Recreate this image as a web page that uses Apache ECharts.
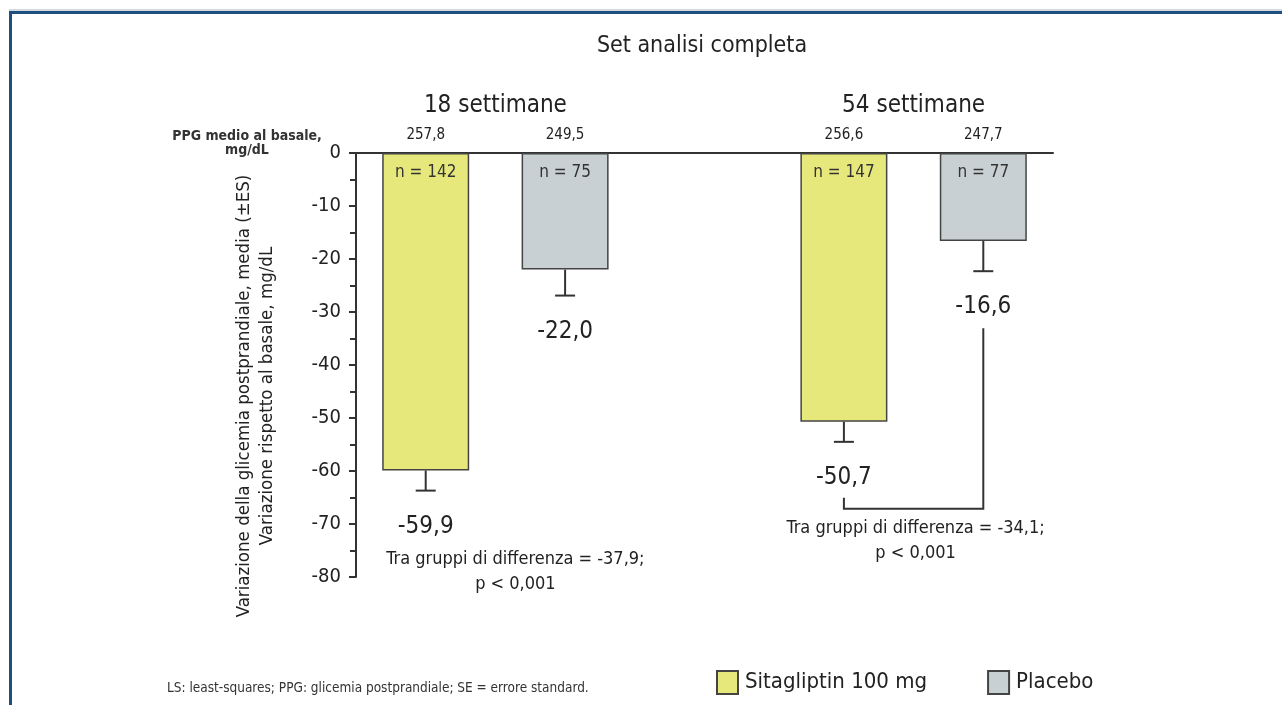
<!DOCTYPE html>
<html>
<head>
<meta charset="utf-8">
<script src="https://cdn.jsdelivr.net/npm/echarts@6/dist/echarts.min.js"></script>
<style>
  html, body { margin: 0; padding: 0; background: #fff; }
  #chart { width: 1282px; height: 705px; }
</style>
</head>
<body>
<div id="chart"></div>
<script>
// --- data -------------------------------------------------------------
const groups = ['18 settimane', '54 settimane'];
const treatments = ['Sitagliptin 100 mg', 'Placebo'];
// baseline mean PPG (mg/dL), per group
const baselineSita = [257.8, 256.6];
const baselinePlac = [249.5, 247.7];
// LS mean change from baseline (mg/dL)
const changeSita = [-59.9, -50.7];
const changePlac = [-22.0, -16.6];
// standard error
const seSita = [3.8, 3.8];
const sePlac = [4.9, 5.7];
// patients per arm
const nSita = [142, 147];
const nPlac = [75, 77];
// between-group difference
const diffBetween = [-37.9, -34.1];
const pText = 'p < 0,001';
const yTicks = { min: -80, max: 0, step: 10 };

// --- helpers ----------------------------------------------------------
const FONT = "'Liberation Sans Narrow', 'DejaVu Sans Condensed', 'Roboto Condensed', 'Liberation Sans', sans-serif";
const TXT = '#222';
const YELLOW = '#e7e87c';
const GREY = '#c8d0d3';
const EDGE = '#444';
const fmt = v => v.toFixed(1).replace('.', ',');

// five slots on the category axis: two per group plus an empty spacer
const slots = ['s18', 'p18', 'gap', 's54', 'p54'];
const slotSita = [0, 3];
const slotPlac = [1, 4];
const baselineBySlot = ['', '', '', '', ''];
const sitaSeries = [null, null, null, null, null];
const placSeries = [null, null, null, null, null];
groups.forEach((g, i) => {
  baselineBySlot[slotSita[i]] = fmt(baselineSita[i]);
  baselineBySlot[slotPlac[i]] = fmt(baselinePlac[i]);
  sitaSeries[slotSita[i]] = changeSita[i];
  placSeries[slotPlac[i]] = changePlac[i];
});

// one annotation record per bar: slot, mean, se, n
const barNotes = [];
groups.forEach((g, i) => {
  barNotes.push([slotSita[i], changeSita[i], seSita[i], nSita[i]]);
  barNotes.push([slotPlac[i], changePlac[i], sePlac[i], nPlac[i]]);
});

const chart = echarts.init(document.getElementById('chart'), null, { renderer: 'canvas' });

const LINE = { stroke: '#333', lineWidth: 2 };
const LABEL_DROP = 36; // distance from error-bar cap to value label centre

function barNote(params, api) {
  const slot = api.value(0), mean = api.value(1), se = api.value(2), n = api.value(3);
  const top = api.coord([slot, 0]);
  const end = api.coord([slot, mean]);
  const cap = api.coord([slot, mean - se]);
  const x = end[0];
  return {
    type: 'group',
    children: [
      { type: 'line', shape: { x1: x, y1: end[1], x2: x, y2: cap[1] }, style: LINE },
      { type: 'line', shape: { x1: x - 10, y1: cap[1], x2: x + 10, y2: cap[1] }, style: LINE },
      { type: 'text', x: x, y: top[1] + 20,
        style: { text: 'n = ' + n, font: '17px ' + FONT, fill: '#333', align: 'center', verticalAlign: 'middle' } },
      { type: 'text', x: x, y: cap[1] + LABEL_DROP,
        style: { text: fmt(mean), font: '24px ' + FONT, fill: TXT, align: 'center', verticalAlign: 'middle' } }
    ]
  };
}

// header, bracket and between-group difference for each group
const groupIdx = groups.map((g, i) => [i]);
function groupNote(params, api) {
  const i = api.value(0);
  const sx = api.coord([slotSita[i], 0])[0];
  const px = api.coord([slotPlac[i], 0])[0];
  const zeroY = api.coord([slotSita[i], 0])[1];
  const mid = (sx + px) / 2;
  const sitaLabelY = api.coord([slotSita[i], changeSita[i] - seSita[i]])[1] + LABEL_DROP;
  const placLabelY = api.coord([slotPlac[i], changePlac[i] - sePlac[i]])[1] + LABEL_DROP;
  const children = [
    { type: 'text', x: mid, y: zeroY - 47,
      style: { text: groups[i], font: '24px ' + FONT, fill: TXT, align: 'center', verticalAlign: 'middle' } }
  ];
  let textY;
  const bracket = i === 1;
  if (bracket) {
    const bottom = sitaLabelY + 31;
    children.push({
      type: 'polyline',
      shape: { points: [[sx, sitaLabelY + 20], [sx, bottom], [px, bottom], [px, placLabelY + 21]] },
      style: { stroke: '#333', lineWidth: 2, fill: null }
    });
    textY = bottom + 32;
  } else {
    textY = sitaLabelY + 45;
  }
  children.push({
    type: 'text', x: mid + (bracket ? 2 : 20), y: textY,
    style: { text: 'Tra gruppi di differenza = ' + fmt(diffBetween[i]) + ';\n' + pText,
      font: '18px ' + FONT, fill: TXT, align: 'center', verticalAlign: 'middle', lineHeight: 25 }
  });
  return { type: 'group', children };
}

chart.setOption({
  backgroundColor: '#fff',
  animation: false,
  textStyle: { fontFamily: FONT, color: TXT },
  title: {
    text: 'Set analisi completa',
    left: 697, top: 30, textAlign: 'center',
    textStyle: { fontFamily: FONT, fontSize: 23, fontWeight: 'normal', color: TXT }
  },
  legend: {
    left: 711, top: 665,
    itemWidth: 21, itemHeight: 23, itemGap: 60,
    icon: 'rect',
    textStyle: { fontFamily: FONT, fontSize: 22, color: TXT, padding: [0, 0, 0, 2] },
    data: treatments
  },
  grid: { left: 356, top: 153, width: 697, height: 424 },
  xAxis: {
    type: 'category',
    position: 'top',
    data: slots,
    axisLine: { onZero: false, lineStyle: { color: '#333', width: 2 } },
    axisTick: { show: false },
    axisLabel: {
      formatter: (v, idx) => baselineBySlot[idx],
      fontFamily: FONT, fontSize: 15, color: TXT, margin: 10
    },
    splitLine: { show: false }
  },
  yAxis: {
    type: 'value',
    min: yTicks.min, max: yTicks.max, interval: yTicks.step,
    axisLine: { show: true, lineStyle: { color: '#333', width: 2 } },
    axisTick: { show: true, length: 7, lineStyle: { color: '#333', width: 2 } },
    minorTick: { show: true, splitNumber: 2, length: 6, lineStyle: { color: '#333', width: 2 } },
    axisLabel: { fontFamily: FONT, fontSize: 20, color: TXT, margin: 15 },
    splitLine: { show: false }
  },
  series: [
    {
      name: treatments[0], type: 'bar', data: sitaSeries,
      barWidth: 87, barGap: '-100%',
      itemStyle: { color: YELLOW, borderColor: EDGE, borderWidth: 1.5 }
    },
    {
      name: treatments[1], type: 'bar', data: placSeries,
      barWidth: 87, barGap: '-100%',
      itemStyle: { color: GREY, borderColor: EDGE, borderWidth: 1.5 }
    },
    {
      type: 'custom', renderItem: barNote, data: barNotes, z: 5,
      encode: { x: 0, y: 1 }, silent: true
    },
    {
      type: 'custom', renderItem: groupNote, data: groupIdx, z: 5,
      silent: true
    }
  ],
  graphic: [
    // page frame
    { type: 'line', shape: { x1: 9, y1: 10, x2: 1282, y2: 10 }, style: { stroke: '#a9b4c2', lineWidth: 1 } },
    { type: 'line', shape: { x1: 9, y1: 12.5, x2: 1282, y2: 12.5 }, style: { stroke: '#1f4f7f', lineWidth: 3 } },
    { type: 'line', shape: { x1: 10.5, y1: 11, x2: 10.5, y2: 705 }, style: { stroke: '#1f4f7f', lineWidth: 3 } },
    // y-axis title
    { type: 'text', x: 256, y: 396, rotation: Math.PI / 2,
      style: { text: 'Variazione della glicemia postprandiale, media (±ES)\nVariazione rispetto al basale, mg/dL',
        font: '18.5px ' + FONT, fill: TXT, align: 'center', verticalAlign: 'middle', lineHeight: 23 } },
    // baseline row header
    { type: 'text', x: 247, y: 143,
      style: { text: 'PPG medio al basale,\nmg/dL', font: 'bold 14px ' + FONT, fill: '#333',
        align: 'center', verticalAlign: 'middle', lineHeight: 14 } },
    // footnote
    { type: 'text', x: 167, y: 688,
      style: { text: 'LS: least-squares; PPG: glicemia postprandiale; SE = errore standard.',
        font: '13.5px ' + FONT, fill: '#333', align: 'left', verticalAlign: 'middle' } }
  ]
});
</script>
</body>
</html>
